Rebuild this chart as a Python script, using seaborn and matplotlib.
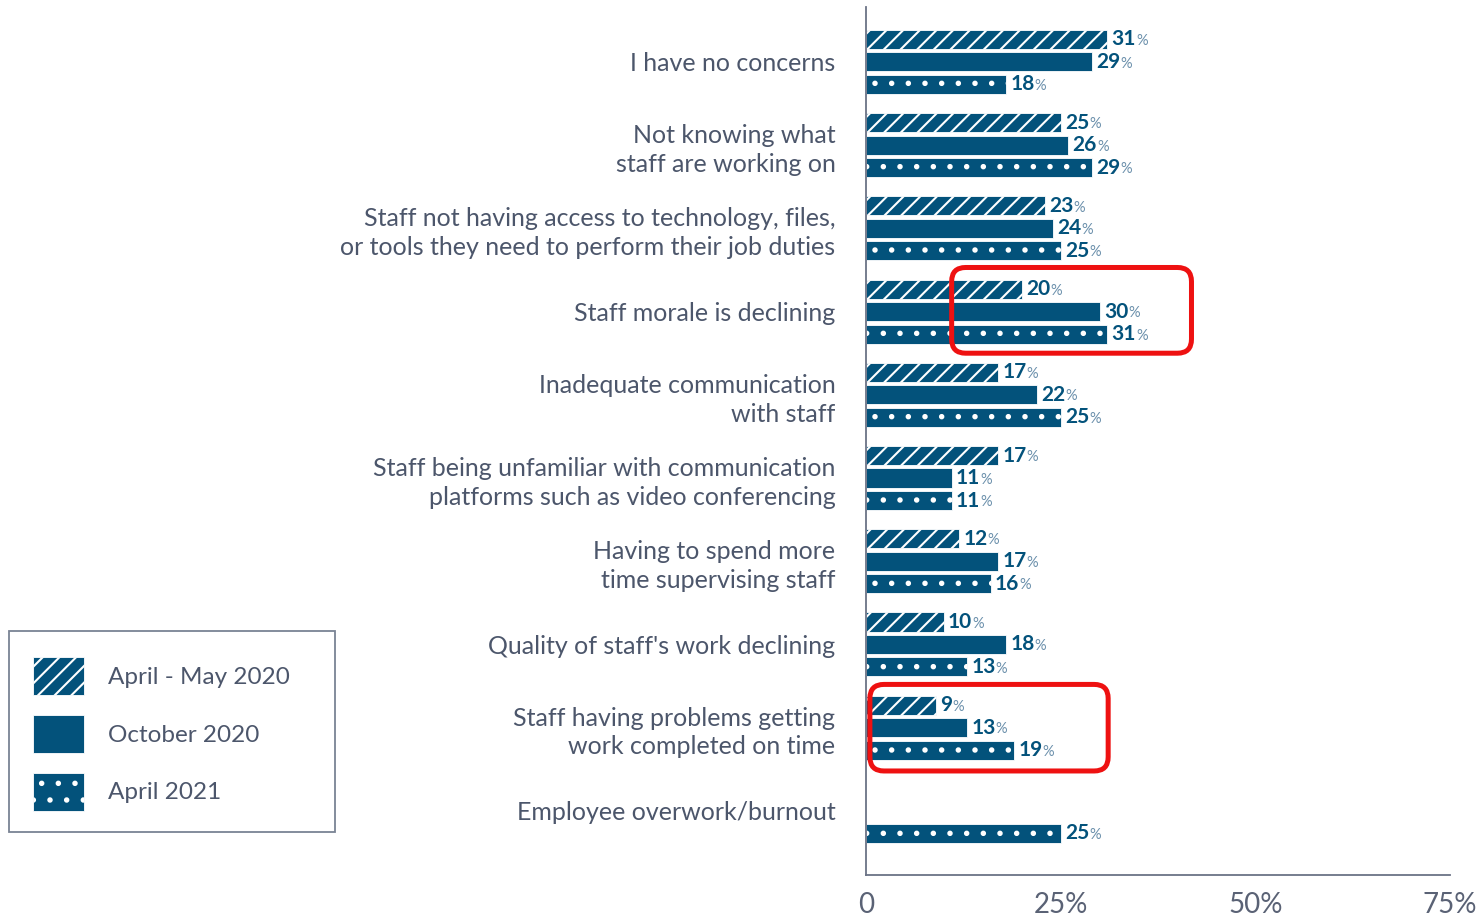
import matplotlib
matplotlib.use("Agg")
import matplotlib.pyplot as plt
from matplotlib.patches import Patch, FancyBboxPatch, Rectangle
import numpy as np
import pandas as pd
import seaborn as sns

# ---- data -----------------------------------------------------------------
categories = [
    "I have no concerns",
    "Not knowing what\nstaff are working on",
    "Staff not having access to technology, files,\nor tools they need to perform their job duties",
    "Staff morale is declining",
    "Inadequate communication\nwith staff",
    "Staff being unfamiliar with communication\nplatforms such as video conferencing",
    "Having to spend more\ntime supervising staff",
    "Quality of staff's work declining",
    "Staff having problems getting\nwork completed on time",
    "Employee overwork/burnout",
]
periods = ["April - May 2020", "October 2020", "April 2021"]
apr_may_2020 = [31, 25, 23, 20, 17, 17, 12, 10, 9, np.nan]
oct_2020 = [29, 26, 24, 30, 22, 11, 17, 18, 13, np.nan]
apr_2021 = [18, 29, 25, 31, 25, 11, 16, 13, 19, 25]
x_ticks = [0, 25, 50, 75]
x_tick_labels = ["0", "25%", "50%", "75%"]

df = pd.DataFrame({
    "category": categories * 3,
    "period": [periods[0]] * 10 + [periods[1]] * 10 + [periods[2]] * 10,
    "value": apr_may_2020 + oct_2020 + apr_2021,
})

# ---- style ----------------------------------------------------------------
sns.set_style("white")
plt.rcParams["font.family"] = ["Lato", "DejaVu Sans"]
plt.rcParams["hatch.linewidth"] = 1.5

NAVY = "#03527b"
PCT = "#6a8fab"
GREY_TXT = "#4c566b"
AXIS = "#6b7386"
hatches = ["//", "", "."]

fig = plt.figure(figsize=(14.8, 9.17), dpi=100)
ax = fig.add_axes([866 / 1480, 42 / 917, (1450 - 866) / 1480, (910 - 42) / 917])

sns.barplot(
    data=df, y="category", x="value", hue="period",
    order=categories, hue_order=periods, orient="h",
    palette=[NAVY] * 3, saturation=1, width=0.81, gap=0.15, legend=False,
    edgecolor="white", linewidth=0.6, ax=ax,
)

# hatches and value labels
for container, hatch in zip(ax.containers, hatches):
    for bar in container:
        w = bar.get_width()
        if not np.isfinite(w) or w == 0:
            continue
        bar.set_hatch(hatch)
        yc = bar.get_y() + bar.get_height() / 2
        num = ax.annotate(
            f"{w:.0f}", xy=(w, yc), xytext=(3, 0), textcoords="offset points",
            ha="left", va="center", fontsize=15, fontweight="bold", color=NAVY,
        )
        ax.annotate(
            "%", xy=(1, 0), xycoords=num, xytext=(0, 1),
            textcoords="offset points", ha="left", va="bottom",
            fontsize=10.5, color=PCT,
        )

# axes
ax.set_xlim(0, 75)
ax.set_ylim(9.77, -0.66)
ax.set_xticks(x_ticks)
ax.set_xticklabels(x_tick_labels)
ax.set_xlabel("")
ax.set_ylabel("")
ax.tick_params(axis="x", length=0, pad=12, labelsize=20, labelcolor="#5a6275")
ax.tick_params(axis="y", length=0, pad=22, labelsize=18, labelcolor=GREY_TXT)
for lbl in ax.get_yticklabels():
    lbl.set_horizontalalignment("right")
    lbl.set_linespacing(1.3)
for side in ["top", "right"]:
    ax.spines[side].set_visible(False)
for side in ["left", "bottom"]:
    ax.spines[side].set_color(AXIS)
    ax.spines[side].set_linewidth(1.3)

# highlight boxes
px_x = 75 / (1450 - 866)
px_y = 10.43 / (910 - 42)
for x0, x1, y0, y1 in [(11.0, 41.8, 2.47, 3.50), (0.5, 31.1, 7.48, 8.52)]:
    box = FancyBboxPatch(
        (x0, y0), x1 - x0, y1 - y0,
        boxstyle=f"round,pad=0,rounding_size={14 * px_x}",
        mutation_aspect=px_y / px_x,
        fill=False, edgecolor="#ee1111", linewidth=3.6, zorder=5,
        clip_on=False,
    )
    ax.add_patch(box)

# legend with its own frame
fig.patches.append(Rectangle(
    (9 / 1480, 1 - 832 / 917), 326 / 1480, 201 / 917,
    transform=fig.transFigure, fill=False, edgecolor="#7a8394", linewidth=1.3,
))
handles = [
    Patch(facecolor=NAVY, edgecolor="white", linewidth=0.6, hatch=h, label=p)
    for h, p in zip(hatches, periods)
]
fig.legend(
    handles=handles, loc="upper left",
    bbox_to_anchor=(33 / 1480, 1 - 657 / 917), frameon=False,
    fontsize=17.5, labelcolor=GREY_TXT,
    handlelength=2.1, handleheight=2.05, handletextpad=1.0,
    labelspacing=0.8, borderpad=0, borderaxespad=0,
)

fig.savefig("out.png", dpi=100, facecolor="white")
